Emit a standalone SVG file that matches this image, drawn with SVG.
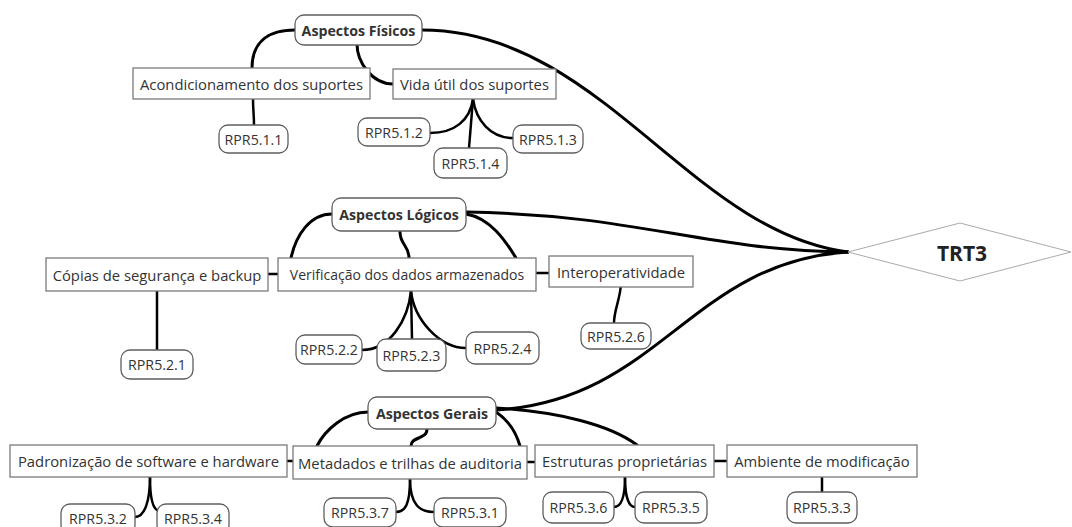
<svg xmlns="http://www.w3.org/2000/svg" width="1072" height="527" viewBox="0 0 1072 527">
<style>
text{font-family:"Open Sans","Noto Sans","Liberation Sans",sans-serif;fill:#333;text-anchor:middle;dominant-baseline:central}
.t{font-size:14.8px}
.b{font-size:14.2px;font-weight:bold}
.r{font-size:14.2px}
.box{fill:#fff;stroke:#7a7a7a;stroke-width:1.3}
.rb{fill:#fff;stroke:#5f5f5f;stroke-width:1.3}
.main{fill:#fff;stroke:#aaa;stroke-width:1}
#connectors path{fill:none;stroke:#000;stroke-width:3;stroke-linecap:round}
#connectors .thin{stroke-width:2.5}
</style>
<rect width="1072" height="527" fill="#fff"/>
<g id="connectors">
<path d="M422,30 C600,30 690,232 848,252"/>
<path d="M466,212 C640,215 700,250 848,252"/>
<path d="M496,410 C660,400 690,262 848,252"/>
<path d="M295,30 C265,30 252,45 252,68"/>
<path d="M357,44 C357,62 372,84 393,84"/>
<path class="thin" d="M253,99 C253,110 254,115 254,125"/>
<path class="thin" d="M473,99 C470,120 455,133 430,133"/>
<path class="thin" d="M473,99 L469,148"/>
<path class="thin" d="M473,99 C476,120 490,138 513,138"/>
<path d="M332,214 C310,214 296,235 291,258"/>
<path d="M400,232 C400,245 409,245 409,258"/>
<path d="M466,214 C490,218 505,240 516,258"/>
<path class="thin" d="M268,274 L278,274"/>
<path class="thin" d="M536,273 L549,273"/>
<path class="thin" d="M157,291 L157,350"/>
<path class="thin" d="M411,291 C408,320 390,350 362,350"/>
<path class="thin" d="M411,291 L412,339"/>
<path class="thin" d="M411,291 C414,320 440,348 466,348"/>
<path class="thin" d="M621,284 C620,300 614,310 614,323"/>
<path d="M368,412 C345,412 325,430 317,446"/>
<path d="M427,429 C427,440 411,436 411,446"/>
<path d="M496,412 C508,420 516,432 520,446"/>
<path d="M496,408 C560,412 610,425 637,445"/>
<path class="thin" d="M287,461 L293,461"/>
<path class="thin" d="M527,462 L535,462"/>
<path class="thin" d="M714,461 L727,461"/>
<path class="thin" d="M150,477 C150,500 145,517 135,517"/>
<path class="thin" d="M150,477 C150,495 152,507 157,510"/>
<path class="thin" d="M410,479 C410,505 405,512 396,512"/>
<path class="thin" d="M410,479 C410,505 420,512 434,512"/>
<path class="thin" d="M625,477 C625,500 620,507 614,507"/>
<path class="thin" d="M625,477 C625,500 630,507 635,507"/>
<path class="thin" d="M822,477 L822,492"/>
</g>
<g id="trt3"><polygon class="main" points="848,252 960,223 1071,252 960,281"/><text x="962" y="253" style="font-size:21px;font-weight:bold;fill:#222">TRT3</text></g>
<g id="aspectos-fisicos"><rect class="rb" x="295" y="15" width="127" height="30" rx="9"/><text class="b" x="358.5" y="30">Aspectos Físicos</text></g>
<g id="acondicionamento"><rect class="box" x="133" y="68" width="237" height="31"/><text class="t" x="251.5" y="83.5">Acondicionamento dos suportes</text></g>
<g id="vida-util"><rect class="box" x="393" y="69" width="163" height="30"/><text class="t" x="474.5" y="84">Vida útil dos suportes</text></g>
<g id="rpr511"><rect class="rb" x="219" y="125" width="69" height="28" rx="9"/><text class="r" x="253.5" y="139">RPR5.1.1</text></g>
<g id="rpr512"><rect class="rb" x="358" y="118" width="72" height="28" rx="9"/><text class="r" x="394" y="132">RPR5.1.2</text></g>
<g id="rpr514"><rect class="rb" x="434" y="148" width="73" height="30" rx="9"/><text class="r" x="470.5" y="163">RPR5.1.4</text></g>
<g id="rpr513"><rect class="rb" x="513" y="125" width="70" height="28" rx="9"/><text class="r" x="548" y="139">RPR5.1.3</text></g>
<g id="aspectos-logicos"><rect class="rb" x="332" y="198" width="134" height="33" rx="9"/><text class="b" x="399" y="214.5">Aspectos Lógicos</text></g>
<g id="copias"><rect class="box" x="46" y="258" width="222" height="33"/><text class="t" x="157" y="274.5">Cópias de segurança e backup</text></g>
<g id="verificacao"><rect class="box" x="278" y="258" width="258" height="33"/><text class="t" x="407" y="274.5" style="font-size:14px">Verificação dos dados armazenados</text></g>
<g id="interoperatividade"><rect class="box" x="549" y="256" width="144" height="31"/><text class="t" x="621" y="271.5">Interoperatividade</text></g>
<g id="rpr521"><rect class="rb" x="121" y="350" width="72" height="29" rx="9"/><text class="r" x="157" y="364.5">RPR5.2.1</text></g>
<g id="rpr522"><rect class="rb" x="296" y="335" width="66" height="29" rx="9"/><text class="r" x="329" y="349.5">RPR5.2.2</text></g>
<g id="rpr523"><rect class="rb" x="377" y="339" width="69" height="32" rx="9"/><text class="r" x="411.5" y="355">RPR5.2.3</text></g>
<g id="rpr524"><rect class="rb" x="466" y="332" width="73" height="32" rx="9"/><text class="r" x="502.5" y="348">RPR5.2.4</text></g>
<g id="rpr526"><rect class="rb" x="581" y="323" width="70" height="26" rx="9"/><text class="r" x="616" y="336">RPR5.2.6</text></g>
<g id="aspectos-gerais"><rect class="rb" x="368" y="397" width="128" height="32" rx="9"/><text class="b" x="432" y="413">Aspectos Gerais</text></g>
<g id="padronizacao"><rect class="box" x="10" y="445" width="277" height="32"/><text class="t" x="148.5" y="461">Padronização de software e hardware</text></g>
<g id="metadados"><rect class="box" x="293" y="446" width="234" height="33"/><text class="t" x="410" y="462.5">Metadados e trilhas de auditoria</text></g>
<g id="estruturas"><rect class="box" x="535" y="445" width="179" height="32"/><text class="t" x="624.5" y="461">Estruturas proprietárias</text></g>
<g id="ambiente"><rect class="box" x="727" y="445" width="190" height="32"/><text class="t" x="822" y="461">Ambiente de modificação</text></g>
<g id="rpr532"><rect class="rb" x="61" y="504" width="74" height="30" rx="9"/><text class="r" x="98" y="518">RPR5.3.2</text></g>
<g id="rpr534"><rect class="rb" x="157" y="504" width="72" height="30" rx="9"/><text class="r" x="193" y="518">RPR5.3.4</text></g>
<g id="rpr537"><rect class="rb" x="324" y="498" width="72" height="29" rx="9"/><text class="r" x="360" y="512">RPR5.3.7</text></g>
<g id="rpr531"><rect class="rb" x="434" y="498" width="72" height="29" rx="9"/><text class="r" x="470" y="512">RPR5.3.1</text></g>
<g id="rpr536"><rect class="rb" x="543" y="492" width="71" height="31" rx="9"/><text class="r" x="578.5" y="507.5">RPR5.3.6</text></g>
<g id="rpr535"><rect class="rb" x="635" y="492" width="72" height="31" rx="9"/><text class="r" x="671" y="507.5">RPR5.3.5</text></g>
<g id="rpr533"><rect class="rb" x="787" y="492" width="70" height="31" rx="9"/><text class="r" x="822" y="507.5">RPR5.3.3</text></g>
</svg>
